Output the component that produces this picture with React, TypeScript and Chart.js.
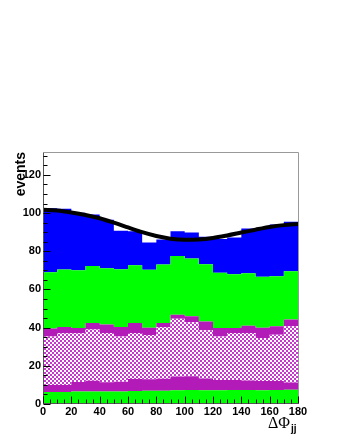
import React, { useEffect, useRef } from "react";
import { Chart, registerables } from "chart.js";

Chart.register(...registerables);

// Bin edges of the ΔΦjj histogram (degrees)
const binEdges = [0, 10, 20, 30, 40, 50, 60, 70, 80, 90, 100, 110, 120, 130, 140, 150, 160, 170, 180];

// Stacked contributions per bin (bottom to top)
const greenLow = [6.3, 6.3, 6.5, 6.5, 6.6, 6.6, 6.8, 6.9, 7.0, 7.2, 7.3, 7.2, 7.2, 7.3, 7.3, 7.2, 7.3, 7.4];
const magentaLow = [3.7, 3.7, 5.0, 5.7, 4.8, 5.1, 6.3, 6.1, 6.2, 7.2, 7.3, 6.1, 5.4, 5.3, 5.0, 4.8, 4.7, 3.9];
const checkered = [25.4, 27.0, 25.5, 26.8, 25.8, 23.7, 24.1, 23.2, 27.0, 30.2, 28.2, 25.3, 22.8, 24.6, 24.9, 22.6, 24.3, 29.4];
const magentaHigh = [4.1, 3.3, 2.8, 3.4, 4.4, 4.9, 5.2, 3.8, 2.2, 2.2, 3.2, 4.6, 4.4, 2.6, 3.8, 5.4, 4.4, 3.5];
const greenHigh = [29.5, 30.1, 30.2, 29.9, 29.5, 30.3, 30.3, 30.3, 30.7, 30.7, 30.2, 30.0, 29.0, 28.2, 27.5, 26.7, 26.2, 25.4];
const blueTop = [33.5, 31.9, 30.2, 27.0, 25.4, 20.2, 17.8, 14.3, 13.1, 13.0, 13.6, 14.4, 17.6, 19.2, 23.4, 25.3, 27.1, 25.9];

// Fitted curve
const fitX = [0, 10, 20, 30, 40, 50, 60, 70, 80, 90, 100, 110, 120, 130, 140, 150, 160, 170, 180];
const fitY = [101.7, 101.3, 100.3, 99.0, 97.3, 95.0, 92.5, 90.0, 88.0, 86.6, 86.0, 86.2, 87.0, 88.3, 89.8, 91.3, 92.7, 93.7, 94.3];

// Axes
const xTickLabels = ["0", "20", "40", "60", "80", "100", "120", "140", "160", "180"];
const yTickLabels = ["0", "20", "40", "60", "80", "100", "120"];
const xMin = 0;
const xMax = 180;
const yMin = 0;
const yMax = 132;
const minorStep = 5;

const COL_GREEN = "#00ff00";
const COL_BLUE = "#0000ff";
const COL_MAGENTA = "#b31bb8";
const COL_CHECK = "#c436cc";

function toSteps(values: number[]) {
  const pts = binEdges.map((e, i) => ({ x: e, y: values[Math.min(i, values.length - 1)] }));
  return pts;
}

function makeChecker(): CanvasPattern | string {
  const c = document.createElement("canvas");
  c.width = 4;
  c.height = 4;
  const g = c.getContext("2d");
  if (!g) return COL_CHECK;
  g.fillStyle = "#ffffff";
  g.fillRect(0, 0, 4, 4);
  g.fillStyle = COL_CHECK;
  g.fillRect(0, 0, 2, 2);
  g.fillRect(2, 2, 2, 2);
  const p = g.createPattern(c, "repeat");
  return p || COL_CHECK;
}

const rootAxes = {
  id: "rootAxes",
  afterDatasetsDraw(chart: any) {
    const { ctx, chartArea: a, scales } = chart;
    const xs = scales.x;
    const ys = scales.y;
    ctx.save();
    const L = Math.round(a.left) + 0.5;
    const R = Math.round(a.right) + 0.5;
    const T = Math.round(a.top) + 0.5;
    const B = Math.round(a.bottom) - 0.5;
    // frame
    ctx.lineWidth = 1;
    ctx.strokeStyle = "#999999";
    ctx.beginPath();
    ctx.moveTo(L, T);
    ctx.lineTo(R, T);
    ctx.lineTo(R, B);
    ctx.stroke();
    ctx.strokeStyle = "#555555";
    ctx.beginPath();
    ctx.moveTo(L, T);
    ctx.lineTo(L, B);
    ctx.lineTo(R, B);
    ctx.stroke();
    // ticks
    ctx.strokeStyle = "#000000";
    ctx.beginPath();
    for (let v = xMin; v <= xMax; v += minorStep) {
      const px = Math.round(xs.getPixelForValue(v)) + 0.5;
      const len = v % 20 === 0 ? 7 : 4;
      ctx.moveTo(px, B);
      ctx.lineTo(px, B - len);
    }
    for (let v = yMin; v <= yMax; v += minorStep) {
      const py = Math.round(ys.getPixelForValue(v)) + 0.5;
      const len = v % 20 === 0 ? 7 : 4;
      ctx.moveTo(L, py);
      ctx.lineTo(L + len, py);
    }
    ctx.stroke();
    // tick labels
    ctx.fillStyle = "#000000";
    ctx.font = 'bold 11px "Liberation Sans", Arial, sans-serif';
    ctx.textAlign = "center";
    ctx.textBaseline = "alphabetic";
    xTickLabels.forEach((t) => {
      const px = xs.getPixelForValue(Number(t));
      ctx.fillText(t, px, a.bottom + 11);
    });
    ctx.textAlign = "right";
    ctx.textBaseline = "middle";
    yTickLabels.forEach((t) => {
      const py = ys.getPixelForValue(Number(t));
      ctx.fillText(t, a.left - 2, py);
    });
    // y title
    ctx.save();
    ctx.translate(25, a.top);
    ctx.rotate(-Math.PI / 2);
    ctx.font = 'bold 14px "Liberation Sans", Arial, sans-serif';
    ctx.textAlign = "right";
    ctx.textBaseline = "alphabetic";
    ctx.fillText("events", 0, 0);
    ctx.restore();
    // x title
    ctx.textAlign = "left";
    ctx.textBaseline = "alphabetic";
    ctx.font = '16px "Liberation Serif", "Times New Roman", serif';
    ctx.fillText("ΔΦ", 268, 428);
    ctx.font = 'bold 10px "Liberation Sans", Arial, sans-serif';
    ctx.fillText("jj", 291, 432);
    ctx.restore();
  },
};

export default function App() {
  const ref = useRef<HTMLCanvasElement | null>(null);
  useEffect(() => {
    if (!ref.current) return;
    const checker = makeChecker();
    const layer = (label: string, values: number[], color: any, first: boolean) => ({
      type: "line" as const,
      label,
      data: toSteps(values),
      stepped: true,
      backgroundColor: color,
      borderColor: "rgba(0,0,0,0)",
      borderWidth: 0,
      pointRadius: 0,
      fill: first ? "origin" : "-1",
      order: 1,
    });
    const chart = new Chart(ref.current, {
      type: "line",
      data: {
        datasets: [
          layer("green low", greenLow, COL_GREEN, true),
          layer("magenta low", magentaLow, COL_MAGENTA, false),
          layer("checkered", checkered, checker, false),
          layer("magenta high", magentaHigh, COL_MAGENTA, false),
          layer("green high", greenHigh, COL_GREEN, false),
          layer("blue", blueTop, COL_BLUE, false),
          {
            type: "line" as const,
            label: "fit",
            data: fitX.map((x, i) => ({ x, y: fitY[i] })),
            stack: "fit",
            borderColor: "#000000",
            borderWidth: 4,
            pointRadius: 0,
            fill: false,
            cubicInterpolationMode: "monotone",
            order: 0,
          } as any,
        ],
      },
      options: {
        responsive: false,
        animation: false,
        devicePixelRatio: 1,
        layout: { padding: { left: 43, right: 42, top: 152, bottom: 36 } },
        plugins: { legend: { display: false }, tooltip: { enabled: false }, title: { display: false } },
        scales: {
          x: { type: "linear", min: xMin, max: xMax, display: false },
          y: { type: "linear", min: yMin, max: yMax, stacked: true, display: false },
        },
      },
      plugins: [rootAxes],
    });
    return () => chart.destroy();
  }, []);
  return (
    <div style={{ position: "absolute", left: 0, top: 0, width: 340, height: 440, background: "#fff" }}>
      <canvas ref={ref} width={340} height={440} style={{ display: "block" }} />
    </div>
  );
}
